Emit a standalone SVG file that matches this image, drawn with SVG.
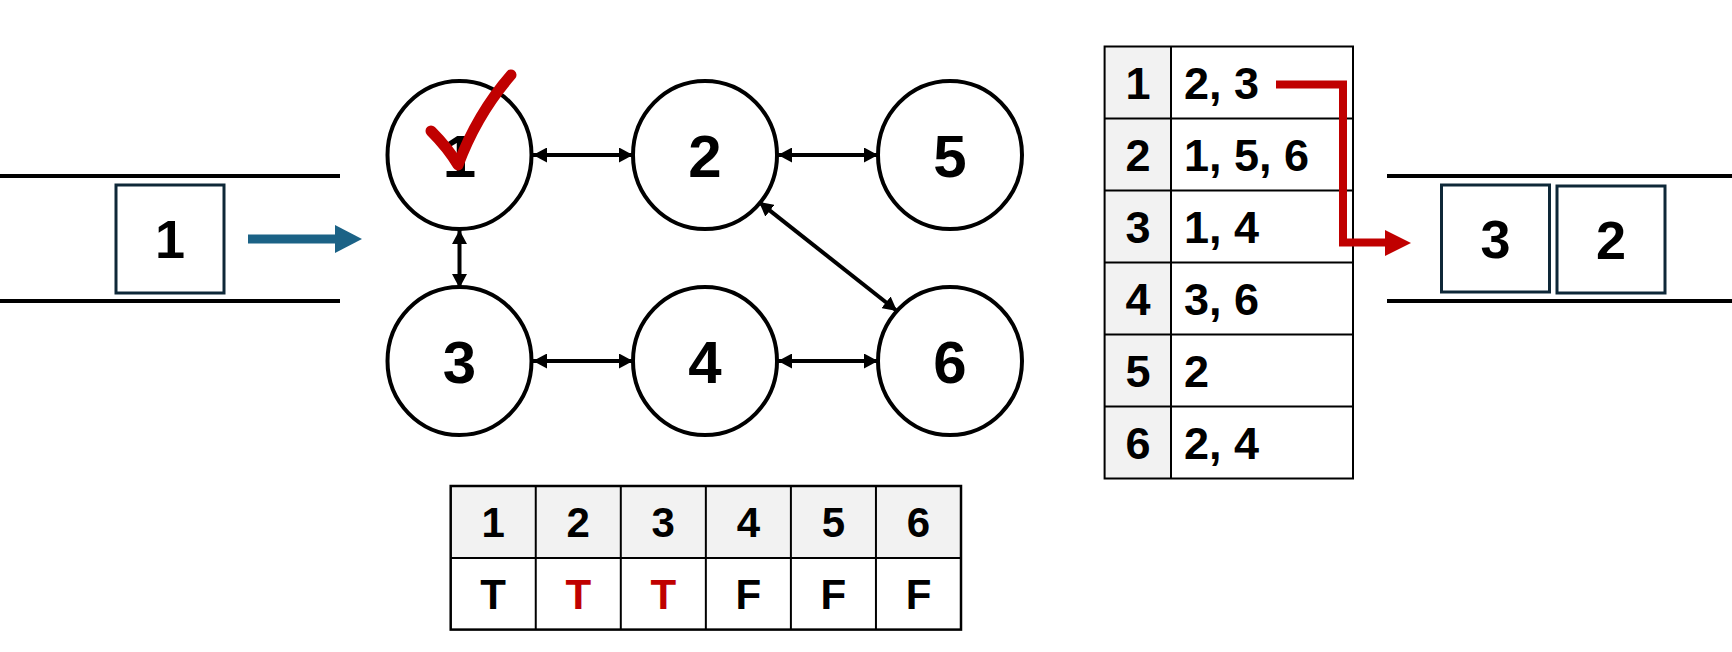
<svg xmlns="http://www.w3.org/2000/svg" width="1732" height="652" viewBox="0 0 1732 652">
<style>
.lbl{font-family:"Liberation Sans",Arial,sans-serif;font-weight:bold;fill:#000;text-anchor:middle}
.cnum{font-size:60px}
.bnum{font-size:54px}
.tnum{font-size:45px}
.vnum{font-size:42px}
.node{fill:#fff;stroke:#000;stroke-width:4}
.qbox{fill:#fff;stroke:#0e2838;stroke-width:3}
.rail{stroke:#000;stroke-width:4}
.edge{stroke:#000;stroke-width:4;fill:none;marker-start:url(#ah);marker-end:url(#ah)}
.grid{stroke:#000;stroke-width:2;fill:none}
.red{fill:#c00000}
</style>
<defs>
<marker id="ah" viewBox="0 0 14 15" refX="14" refY="7.5" markerWidth="14" markerHeight="15" markerUnits="userSpaceOnUse" orient="auto-start-reverse">
<path d="M0,0 L14,7.5 L0,15 z" fill="#000"/>
</marker>
</defs>
<rect width="1732" height="652" fill="#fff"/>

<!-- left queue -->
<g id="queue-left">
<line class="rail" x1="0" y1="176" x2="340" y2="176"/>
<line class="rail" x1="0" y1="301" x2="340" y2="301"/>
<rect class="qbox" x="116" y="185" width="108" height="108"/>
<text class="lbl bnum" x="170" y="258">1</text>
</g>
<g id="blue-arrow">
<line x1="248" y1="239" x2="337" y2="239" stroke="#1b6286" stroke-width="9"/>
<polygon points="335,225 362,239 335,253" fill="#1b6286"/>
</g>

<!-- connectors -->
<g id="connectors">
<line class="edge" x1="533" y1="155" x2="633" y2="155"/>
<line class="edge" x1="778" y1="155" x2="878" y2="155"/>
<line class="edge" x1="533" y1="361" x2="633" y2="361"/>
<line class="edge" x1="778" y1="361" x2="878" y2="361"/>
<line class="edge" x1="459.5" y1="230" x2="459.5" y2="288"/>
<line class="edge" x1="759" y1="202" x2="897" y2="311"/>
</g>

<!-- nodes -->
<g id="node1"><ellipse class="node" cx="459.5" cy="155" rx="72" ry="74"/><text class="lbl cnum" x="459.5" y="176.5">1</text></g>
<g id="node2"><ellipse class="node" cx="705" cy="155" rx="72" ry="74"/><text class="lbl cnum" x="705" y="176.5">2</text></g>
<g id="node5"><ellipse class="node" cx="950" cy="155" rx="72" ry="74"/><text class="lbl cnum" x="950" y="176.5">5</text></g>
<g id="node3"><ellipse class="node" cx="459.5" cy="361" rx="72" ry="74"/><text class="lbl cnum" x="459.5" y="382.5">3</text></g>
<g id="node4"><ellipse class="node" cx="705" cy="361" rx="72" ry="74"/><text class="lbl cnum" x="705" y="382.5">4</text></g>
<g id="node6"><ellipse class="node" cx="950" cy="361" rx="72" ry="74"/><text class="lbl cnum" x="950" y="382.5">6</text></g>

<!-- check mark -->
<g id="check">
<path d="M431,131 C441,141 451,153 458,165 Q477,114 511,75" fill="none" stroke="#c00000" stroke-width="11" stroke-linecap="round" stroke-linejoin="round"/>
</g>

<!-- adjacency table -->
<g id="adj-table">
<rect x="1104.6" y="46.5" width="66.4" height="432" fill="#f2f2f2"/>
<rect x="1171" y="46.5" width="182" height="432" fill="#fff"/>
<rect class="grid" x="1104.6" y="46.5" width="248.4" height="432"/>
<line class="grid" x1="1171" y1="46.5" x2="1171" y2="478.5"/>
<line class="grid" x1="1104.6" y1="118.5" x2="1353" y2="118.5"/>
<line class="grid" x1="1104.6" y1="190.5" x2="1353" y2="190.5"/>
<line class="grid" x1="1104.6" y1="262.5" x2="1353" y2="262.5"/>
<line class="grid" x1="1104.6" y1="334.5" x2="1353" y2="334.5"/>
<line class="grid" x1="1104.6" y1="406.5" x2="1353" y2="406.5"/>
<text class="lbl tnum" x="1138" y="98.5">1</text>
<text class="lbl tnum" x="1138" y="170.5">2</text>
<text class="lbl tnum" x="1138" y="242.5">3</text>
<text class="lbl tnum" x="1138" y="314.5">4</text>
<text class="lbl tnum" x="1138" y="386.5">5</text>
<text class="lbl tnum" x="1138" y="458.5">6</text>
<text class="lbl tnum" x="1184" y="98.5" style="text-anchor:start">2, 3</text>
<text class="lbl tnum" x="1184" y="170.5" style="text-anchor:start">1, 5, 6</text>
<text class="lbl tnum" x="1184" y="242.5" style="text-anchor:start">1, 4</text>
<text class="lbl tnum" x="1184" y="314.5" style="text-anchor:start">3, 6</text>
<text class="lbl tnum" x="1184" y="386.5" style="text-anchor:start">2</text>
<text class="lbl tnum" x="1184" y="458.5" style="text-anchor:start">2, 4</text>
</g>

<!-- red connector -->
<g id="red-arrow">
<path d="M1276,84.5 H1343 V242.5 H1388" fill="none" stroke="#c00000" stroke-width="8"/>
<polygon class="red" points="1385,230 1411,243 1385,256"/>
</g>

<!-- right queue -->
<g id="queue-right">
<line class="rail" x1="1387" y1="176" x2="1732" y2="176"/>
<line class="rail" x1="1387" y1="301" x2="1732" y2="301"/>
<rect class="qbox" x="1441.5" y="185" width="108" height="107"/>
<text class="lbl bnum" x="1495.5" y="258">3</text>
<rect class="qbox" x="1557" y="186" width="108" height="107"/>
<text class="lbl bnum" x="1611" y="259">2</text>
</g>

<!-- visited table -->
<g id="visited-table">
<rect x="450.7" y="486" width="510.3" height="72" fill="#f2f2f2"/>
<rect x="450.7" y="558" width="510.3" height="71.6" fill="#fff"/>
<rect class="grid" x="450.7" y="486" width="510.3" height="143.6" style="stroke-width:2.5"/>
<line class="grid" x1="450.7" y1="558" x2="961" y2="558"/>
<line class="grid" x1="535.75" y1="486" x2="535.75" y2="629.6"/>
<line class="grid" x1="620.8" y1="486" x2="620.8" y2="629.6"/>
<line class="grid" x1="705.85" y1="486" x2="705.85" y2="629.6"/>
<line class="grid" x1="790.9" y1="486" x2="790.9" y2="629.6"/>
<line class="grid" x1="875.95" y1="486" x2="875.95" y2="629.6"/>
<text class="lbl vnum" x="493.2" y="537">1</text>
<text class="lbl vnum" x="578.3" y="537">2</text>
<text class="lbl vnum" x="663.3" y="537">3</text>
<text class="lbl vnum" x="748.4" y="537">4</text>
<text class="lbl vnum" x="833.4" y="537">5</text>
<text class="lbl vnum" x="918.5" y="537">6</text>
<text class="lbl vnum" x="493.2" y="609">T</text>
<text class="lbl vnum" x="578.3" y="609" style="fill:#c00000">T</text>
<text class="lbl vnum" x="663.3" y="609" style="fill:#c00000">T</text>
<text class="lbl vnum" x="748.4" y="609">F</text>
<text class="lbl vnum" x="833.4" y="609">F</text>
<text class="lbl vnum" x="918.5" y="609">F</text>
</g>
</svg>
